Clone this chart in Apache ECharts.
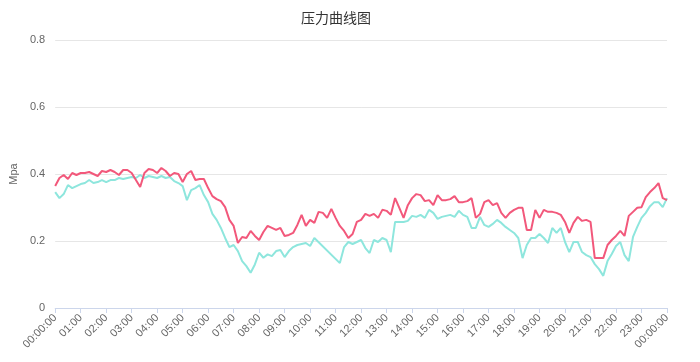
<!DOCTYPE html>
<html>
<head>
<meta charset="utf-8">
<script src="https://cdn.jsdelivr.net/npm/echarts@6/dist/echarts.min.js"></script>
<style>html,body{margin:0;padding:0;background:#fff}#c{width:700px;height:362px}</style>
</head>
<body>
<div id="c"></div>
<script>
// 10-minute samples from 00:00 to 24:00 (145 points)
var hourLabels = ['00:00:00','01:00','02:00','03:00','04:00','05:00','06:00','07:00','08:00','09:00','10:00','11:00','12:00','13:00','14:00','15:00','16:00','17:00','18:00','19:00','20:00','21:00','22:00','23:00','00:00:00'];
var yTicks = [0, 0.2, 0.4, 0.6, 0.8];

var seriesRed = [
0.364,0.388,0.397,0.385,0.403,0.397,
0.403,0.403,0.406,0.400,0.394,0.409,
0.406,0.412,0.406,0.397,0.412,0.412,
0.403,0.382,0.361,0.403,0.415,0.412,
0.403,0.418,0.409,0.394,0.403,0.400,
0.376,0.400,0.409,0.382,0.385,0.385,
0.358,0.334,0.325,0.319,0.301,0.263,
0.245,0.194,0.212,0.209,0.230,0.215,
0.203,0.227,0.245,0.239,0.233,0.239,
0.215,0.218,0.224,0.248,0.278,0.245,
0.263,0.254,0.287,0.284,0.269,0.296,
0.269,0.245,0.230,0.209,0.221,0.257,
0.263,0.281,0.275,0.281,0.269,0.293,
0.290,0.278,0.328,0.299,0.269,0.307,
0.328,0.340,0.337,0.319,0.322,0.307,
0.337,0.322,0.322,0.325,0.334,0.316,
0.316,0.319,0.328,0.269,0.281,0.316,
0.322,0.307,0.313,0.284,0.269,0.284,
0.293,0.299,0.299,0.233,0.233,0.293,
0.269,0.293,0.287,0.287,0.284,0.278,
0.257,0.224,0.254,0.272,0.260,0.263,
0.257,0.149,0.149,0.149,0.188,0.203,
0.215,0.230,0.215,0.275,0.287,0.299,
0.301,0.331,0.346,0.358,0.373,0.328,
0.322
];

var seriesCyan = [
0.346,0.328,0.340,0.367,0.358,0.364,
0.370,0.373,0.382,0.373,0.376,0.382,
0.376,0.382,0.382,0.388,0.385,0.388,
0.391,0.388,0.397,0.388,0.394,0.391,
0.388,0.394,0.388,0.391,0.379,0.373,
0.364,0.322,0.352,0.358,0.367,0.337,
0.316,0.281,0.263,0.239,0.209,0.182,
0.188,0.170,0.140,0.125,0.105,0.130,
0.165,0.150,0.160,0.155,0.170,0.173,
0.152,0.170,0.182,0.188,0.191,0.194,
0.185,0.209,null,null,null,null,
null,0.134,0.182,0.197,0.191,0.197,
0.203,0.179,0.164,0.203,0.197,0.209,
0.203,0.167,0.257,0.257,0.257,0.260,
0.275,0.272,0.278,0.269,0.293,0.284,
0.266,0.272,0.275,0.278,0.272,0.290,
0.278,0.272,0.239,0.239,0.272,0.248,
0.242,0.251,0.263,0.254,0.242,0.233,
0.224,0.209,0.149,0.188,0.209,0.209,
0.221,0.209,0.194,0.239,0.224,0.239,
0.197,0.167,0.197,0.197,0.167,0.158,
0.152,0.131,0.116,0.096,0.140,0.161,
0.185,0.197,0.158,0.140,0.212,0.242,
0.269,0.284,0.304,0.316,0.316,0.301,
0.328
];

var categories = [];
for (var i = 0; i < seriesRed.length; i++) {
  var m = i * 10, h = Math.floor(m / 60), mm = m % 60;
  categories.push((h < 10 ? '0' : '') + h + ':' + (mm < 10 ? '0' : '') + mm);
}

var chart = echarts.init(document.getElementById('c'));
chart.setOption({
  animation: false,
  title: {
    text: '压力曲线图',
    left: 296,
    top: 6,
    textStyle: { fontSize: 14, fontWeight: 'normal', color: '#333', fontFamily: 'Noto Sans CJK SC' }
  },
  grid: { left: 53, right: 33, top: 40, bottom: 54 },
  xAxis: {
    type: 'category',
    boundaryGap: false,
    data: categories,
    axisLine: { lineStyle: { color: '#ccd6eb' } },
    axisTick: { interval: function (idx) { return idx % 6 === 0; }, length: 5, lineStyle: { color: '#ccd6eb' } },
    axisLabel: {
      interval: function (idx) { return idx % 6 === 0; },
      rotate: 45,
      fontSize: 11,
      color: '#666',
      formatter: function (v, idx) { return hourLabels[Math.round(idx / 6)]; }
    },
    splitLine: { show: false }
  },
  yAxis: {
    type: 'value',
    min: yTicks[0],
    max: yTicks[yTicks.length - 1],
    interval: 0.2,
    name: 'Mpa',
    nameLocation: 'middle',
    nameGap: 30,
    nameTextStyle: { color: '#666', fontSize: 11 },
    axisLine: { show: false },
    axisTick: { show: false },
    axisLabel: { color: '#666', fontSize: 11, margin: 10 },
    splitLine: { lineStyle: { color: '#e6e6e6' } }
  },
  series: [
    {
      name: 'B', type: 'line', data: seriesCyan, showSymbol: false, connectNulls: true,
      lineStyle: { width: 2, color: '#8ee6dd' }, itemStyle: { color: '#8ee6dd' }
    },
    {
      name: 'A', type: 'line', data: seriesRed, showSymbol: false,
      lineStyle: { width: 2, color: '#f2587b' }, itemStyle: { color: '#f2587b' }
    }
  ]
});
</script>
</body>
</html>
